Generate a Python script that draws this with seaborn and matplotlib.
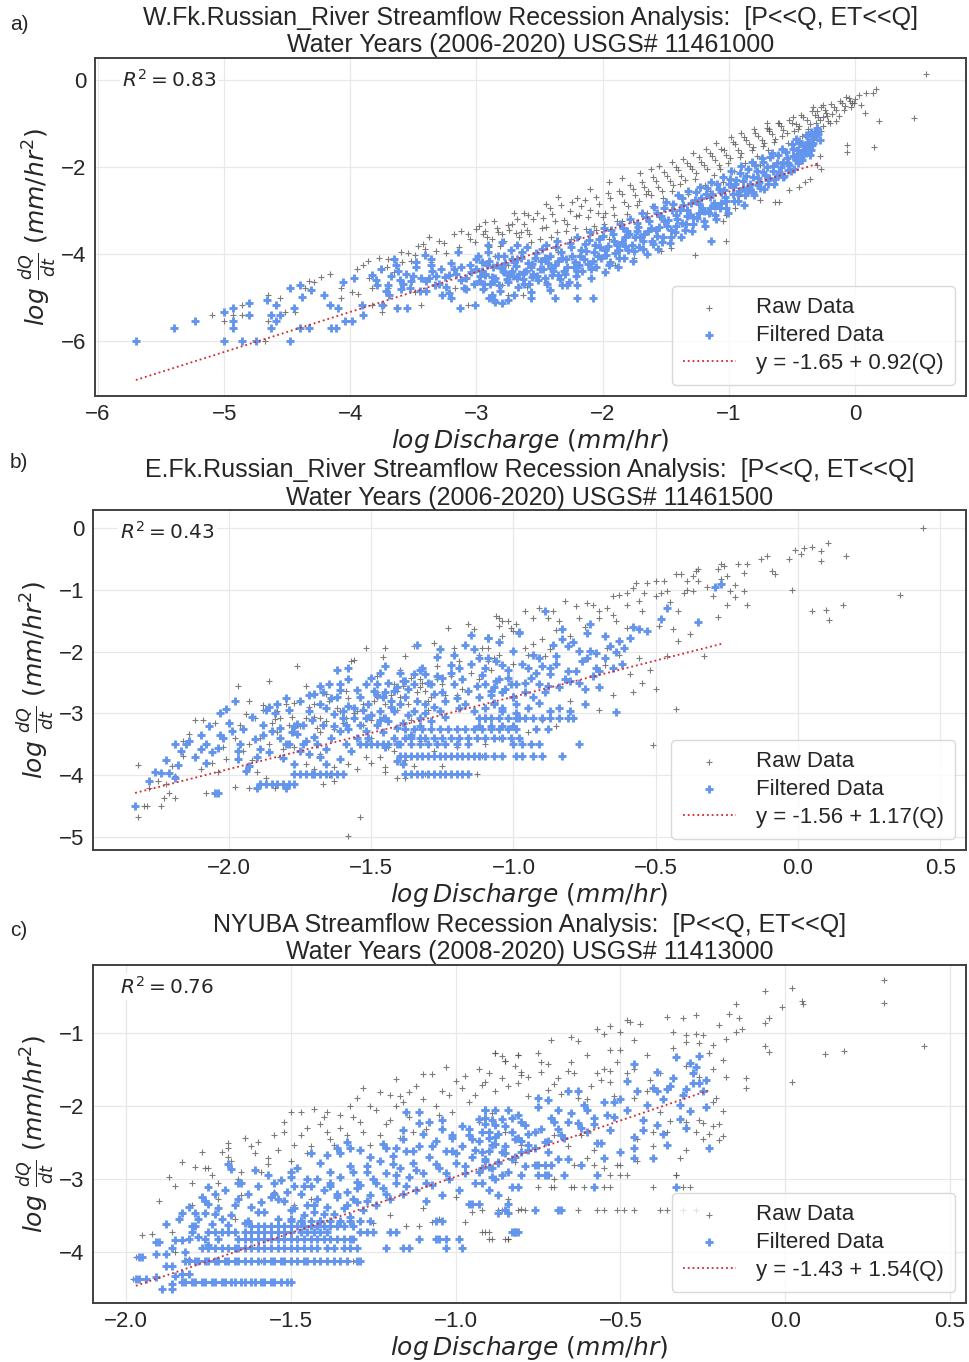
import matplotlib
matplotlib.use("Agg")
import matplotlib.pyplot as plt
import seaborn as sns
import pandas as pd

# ---------------- data ----------------
# Panel a : W.Fk. Russian River
A_TITLE = "W.Fk.Russian_River Streamflow Recession Analysis:  [P<<Q, ET<<Q]\nWater Years (2006-2020) USGS# 11461000"
A_INTERCEPT, A_SLOPE, A_R2 = -1.65, 0.92, 0.83
A_FILT = [
    (-5.70,-6.00),(-5.40,-5.71),(-5.23,-5.53),(-5.00,-5.33),(-5.00,-6.00),(-4.93,-5.24),(-4.93,-5.53),(-4.93,-5.71),
    (-4.86,-6.00),(-4.80,-5.12),(-4.80,-5.41),(-4.75,-6.00),(-4.66,-5.05),(-4.63,-5.41),(-4.63,-5.71),(-4.59,-5.18),
    (-4.59,-5.53),(-4.56,-5.41),(-4.48,-4.78),(-4.48,-6.00),(-4.40,-4.72),(-4.38,-4.98),(-4.45,-5.24),(-4.40,-5.71),
    (-4.33,-5.71),(-4.31,-4.83),(-4.21,-4.95),(-4.16,-5.18),(-4.15,-5.71),(-4.11,-5.71),(-4.10,-5.24),(-4.06,-4.64),
    (-4.04,-5.53),(-3.99,-5.53),(-3.97,-4.54),(-3.91,-5.18),(-3.90,-5.41),(-3.83,-4.49),(-3.79,-4.72),(-3.75,-5.18),
    (-3.70,-4.72),(-3.69,-4.95),(-3.65,-4.11),(-3.63,-5.24),(-3.61,-4.60),(-3.55,-5.24),(-3.53,-4.79),(-3.48,-4.18),
    (-3.41,-4.03),(-3.38,-4.56),(-3.36,-4.11),(-3.33,-4.72),(-3.27,-4.95),(-3.22,-4.49),(-3.20,-5.02),(-3.15,-3.95),
    (-3.13,-5.24),(-3.10,-4.79),(-3.01,-5.18),(-3.00,-4.11),(-2.93,-4.49),(-2.91,-3.80),(-2.90,-5.02),(-2.85,-5.10),
    (-2.80,-3.73),(-2.78,-4.41),(-2.72,-4.11),(-2.68,-3.80),(-2.68,-4.56),
    (-3.45,-4.85),(-3.40,-4.62),(-3.35,-4.40),(-3.30,-4.70),(-3.25,-4.52),(-3.18,-4.35),(-3.12,-4.60),(-3.08,-4.80),
    (-3.05,-4.25),(-3.22,-4.90),(-3.50,-4.50),(-3.58,-4.70),(-3.62,-4.40),(-2.70,-4.95),(-2.75,-5.05),(-2.88,-4.95),
    (-2.57,-4.87),(-2.57,-5.02),(-2.42,-4.83),(-2.38,-5.00),(-2.32,-4.72),(-2.28,-4.72),(-2.20,-4.72),(-2.20,-5.00),
    (-2.08,-5.00),(-2.86,-5.06),(-2.80,-5.12),(-1.14,-3.71),
    (-3.00,-4.35),(-2.98,-4.62),(-2.96,-4.18),(-2.95,-4.80),(-2.93,-4.45),(-2.91,-3.95),(-2.89,-4.70),(-2.87,-4.30),
    (-2.85,-4.55),(-2.83,-4.05),(-2.81,-4.85),(-2.79,-4.40),(-2.77,-4.20),(-2.75,-4.65),(-2.73,-3.90),(-2.71,-4.50),
    (-2.69,-4.28),(-2.67,-4.75),(-2.65,-4.10),(-2.63,-4.58),(-2.61,-4.38),(-2.60,-3.85),
    (-2.58,-4.68),(-2.56,-4.22),(-2.55,-4.45),(-2.53,-3.98),(-2.51,-4.60),(-2.49,-4.15),(-2.47,-4.35),(-2.45,-3.80),
    (-2.44,-4.70),(-2.42,-4.05),(-2.40,-4.48),(-2.38,-4.25),(-2.36,-3.70),(-2.34,-4.58),(-2.33,-3.95),(-2.31,-4.38),
    (-2.29,-4.12),(-2.27,-4.65),(-2.25,-3.85),(-2.23,-4.30),(-2.21,-4.50),(-2.20,-3.60),
    (-2.18,-4.05),(-2.16,-4.40),(-2.14,-3.78),(-2.12,-4.22),(-2.10,-3.50),(-2.09,-4.55),(-2.07,-3.95),(-2.05,-4.30),
    (-2.03,-3.65),(-2.01,-4.10),(-1.99,-3.40),(-1.98,-4.42),(-1.96,-3.82),(-1.94,-4.18),(-1.92,-3.55),(-1.90,-3.98),
    (-1.88,-4.30),(-1.86,-3.30),(-1.85,-3.72),(-1.83,-4.08),(-1.81,-3.48),(-1.80,-3.90),
    (-1.78,-3.20),(-1.76,-4.15),(-1.74,-3.62),(-1.72,-3.38),(-1.71,-3.85),(-1.69,-3.05),(-1.67,-3.55),(-1.65,-4.00),
    (-1.63,-3.25),(-1.61,-3.70),(-1.59,-2.92),(-1.58,-3.45),(-1.56,-3.88),(-1.54,-3.12),(-1.52,-3.60),(-1.50,-2.80),
    (-1.49,-3.35),(-1.47,-3.75),(-1.45,-2.98),(-1.43,-3.50),(-1.41,-3.20),(-1.40,-2.65),
    (-1.38,-3.62),(-1.36,-2.88),(-1.34,-3.30),(-1.32,-2.55),(-1.31,-3.10),(-1.29,-3.48),(-1.27,-2.75),(-1.25,-3.18),
    (-1.23,-2.45),(-1.21,-2.95),(-1.19,-3.35),(-1.18,-2.62),(-1.16,-3.05),(-1.14,-2.35),(-1.12,-2.82),(-1.10,-3.20),
    (-1.08,-2.50),(-1.07,-2.95),(-1.05,-2.22),(-1.03,-2.68),(-1.01,-3.05),(-1.00,-2.40),
    (-0.98,-2.10),(-0.96,-2.78),(-0.94,-2.30),(-0.92,-2.55),(-0.90,-1.98),(-0.88,-2.88),(-0.86,-2.20),(-0.84,-2.45),
    (-0.82,-1.88),(-0.80,-2.65),(-0.78,-2.10),(-0.76,-2.35),(-0.74,-1.80),(-0.72,-2.50),(-0.70,-2.00),(-0.68,-2.25),
    (-0.66,-1.68),(-0.64,-2.38),(-0.62,-1.90),(-0.60,-2.12),
    (-0.58,-1.58),(-0.56,-2.20),(-0.54,-1.80),(-0.52,-1.95),(-0.50,-1.48),(-0.48,-2.05),(-0.46,-1.70),(-0.44,-1.40),
    (-0.42,-1.85),(-0.40,-1.58),(-0.38,-1.30),(-0.36,-1.72),(-0.34,-1.50),(-0.32,-1.22),(-0.30,-1.10),(-0.28,-1.38),
    (-2.97,-4.50),(-2.92,-4.25),(-2.86,-4.62),(-2.80,-4.32),(-2.74,-4.48),(-2.68,-4.12),(-2.62,-4.42),(-2.57,-4.30),
    (-2.52,-4.50),(-2.46,-4.08),(-2.41,-4.32),(-2.35,-4.15),(-2.30,-4.45),(-2.24,-4.05),(-2.19,-4.25),(-2.13,-3.92),
    (-2.08,-4.15),(-2.02,-3.85),(-1.97,-4.02),(-1.91,-3.70),(-1.87,-3.90),(-1.82,-3.60),(-1.77,-3.80),(-1.73,-3.48),
    (-1.68,-3.70),(-1.62,-3.40),(-1.57,-3.58),(-1.51,-3.25),(-1.46,-3.45),(-1.42,-3.10),(-1.37,-3.28),(-1.33,-2.98),
    (-1.28,-3.15),(-1.24,-2.85),(-1.20,-3.02),(-1.15,-2.70),(-1.11,-2.90),(-1.06,-2.58),(-1.02,-2.78),(-0.97,-2.45),
    (-0.93,-2.62),(-0.89,-2.32),(-0.85,-2.52),(-0.81,-2.22),(-0.77,-2.42),(-0.73,-2.12),(-0.69,-2.30),(-0.65,-1.98),
    (-0.61,-2.18),(-0.57,-1.88),(-0.53,-2.08),(-0.49,-1.75),(-0.45,-1.92),(-0.41,-1.65),(-0.37,-1.55),(-0.33,-1.35),
    (-0.30,-1.17),(-0.39,-1.27),(-0.47,-1.36),(-0.44,-1.44),(-0.35,-1.20),
    (-2.99,-4.05),(-2.96,-4.40),(-2.94,-4.68),(-2.90,-4.15),(-2.88,-4.52),(-2.84,-4.25),(-2.82,-4.72),(-2.78,-4.05),
    (-2.76,-4.58),(-2.72,-4.38),(-2.70,-4.18),(-2.66,-4.45),(-2.64,-3.95),(-2.62,-4.68),(-2.59,-4.20),(-2.56,-4.52),
    (-2.54,-4.10),(-2.50,-4.35),(-2.48,-3.88),(-2.46,-4.55),(-2.43,-4.20),(-2.39,-4.40),(-2.37,-3.85),(-2.35,-4.48),
    (-2.32,-4.10),(-2.28,-4.30),(-2.26,-3.75),(-2.22,-4.18),(-2.20,-4.40),(-2.17,-3.90),(-2.15,-4.12),(-2.11,-3.68),
    (-2.09,-4.35),(-2.06,-3.80),(-2.04,-4.05),(-2.00,-3.58),(-1.98,-3.90),(-1.95,-4.25),(-1.93,-3.45),(-1.89,-3.80),
    (-1.87,-4.10),(-1.84,-3.40),(-1.82,-3.82),(-1.79,-3.55),(-1.75,-3.92),(-1.73,-3.28),(-1.70,-3.60),(-1.68,-3.88),
    (-1.66,-3.15),(-1.64,-3.48),(-1.60,-3.78),(-1.57,-3.05),(-1.55,-3.38),(-1.53,-3.72),(-1.51,-2.95),(-1.48,-3.22),
    (-1.46,-3.60),(-1.44,-2.85),(-1.42,-3.35),(-1.39,-3.00),(-1.37,-2.72),(-1.35,-3.45),(-1.33,-3.12),(-1.30,-2.82),
    (-1.28,-3.32),(-1.26,-2.58),(-1.24,-3.05),(-1.22,-2.72),(-1.20,-3.25),(-1.17,-2.48),(-1.15,-2.95),(-1.13,-2.62),
    (-1.11,-3.10),(-1.09,-2.38),(-1.06,-2.82),(-1.04,-2.52),(-1.02,-2.95),(-0.99,-2.28),(-0.97,-2.62),(-0.95,-2.40),
    (-0.93,-2.78),(-0.91,-2.15),(-0.89,-2.48),(-0.87,-2.65),(-0.85,-2.05),(-0.83,-2.38),(-0.81,-2.58),(-0.79,-1.95),
    (-0.77,-2.25),(-0.75,-2.48),(-0.73,-1.88),(-0.71,-2.18),(-0.69,-2.40),(-0.67,-1.78),(-0.65,-2.10),(-0.63,-2.28),
    (-0.61,-1.72),(-0.59,-2.00),(-0.57,-2.22),(-0.55,-1.65),(-0.53,-1.90),(-0.51,-2.10),(-0.49,-1.58),(-0.47,-1.85),
    (-0.45,-1.62),(-0.43,-1.78),(-0.41,-1.50),(-0.39,-1.68),(-0.37,-1.42),(-0.35,-1.60),(-0.33,-1.45),(-0.31,-1.30),
    (-0.29,-1.25),
    (-3.80,-4.60),(-3.76,-4.35),(-3.72,-4.85),(-3.68,-4.50),(-3.64,-4.25),(-3.60,-4.80),(-3.56,-4.45),(-3.52,-4.62),
    (-3.48,-4.30),(-3.44,-4.55),(-3.40,-4.85),(-3.36,-4.25),(-3.32,-4.50),(-3.28,-4.35),(-3.24,-4.75),(-3.20,-4.20),
    (-3.16,-4.45),(-3.12,-4.30),(-3.08,-4.55),(-3.04,-4.42),(-3.02,-4.70),
]
A_RAW = [
    (-5.10,-5.41),(-5.00,-5.53),(-4.86,-5.18),(-4.86,-5.41),(-4.93,-5.41),(-4.68,-6.00),(-4.65,-4.95),(-4.56,-5.02),
    (-4.65,-5.53),(-4.52,-5.33),(-4.44,-5.33),(-4.36,-4.79),(-4.33,-4.63),(-4.29,-4.64),(-4.23,-4.53),(-4.16,-4.47),
    (-4.07,-4.79),(-4.07,-5.00),(-3.99,-4.87),(-3.94,-4.91),(-3.90,-4.26),(-3.86,-4.15),(-3.83,-4.79),(-3.77,-4.08),
    (-3.70,-4.11),(-3.71,-4.30),(-3.65,-4.41),(-3.59,-4.18),(-3.54,-3.97),(-3.49,-4.03),(-3.42,-3.76),(-3.41,-3.88),
    (-3.36,-4.18),(-3.30,-3.69),(-3.24,-3.97),(-3.12,-3.46),(-3.07,-3.53),(-3.01,-3.73),(-3.00,-3.42),(-2.93,-3.27),
    (-2.88,-3.65),(-2.83,-3.50),(-2.75,-3.34),(-2.68,-3.19),(-2.65,-3.50),(-2.59,-3.11),(-3.44,-5.18),(-3.49,-4.87),
    (-3.75,-5.33),(-3.73,-5.18),(-3.07,-5.18),(-2.91,-5.02),(-3.83,-5.18),(-3.70,-4.79),(-3.17,-4.79),(-2.93,-4.79),
    (-2.80,-4.72),(-2.75,-4.95),(-2.63,-4.95),
    (-2.95,-3.55),(-2.90,-3.85),(-2.84,-3.40),(-2.78,-3.70),(-2.72,-3.30),(-2.66,-3.60),(-2.60,-3.45),(-2.55,-3.20),
    (-2.50,-3.65),(-2.45,-3.38),(-2.40,-3.08),(-2.36,-3.50),(-2.31,-3.22),(-2.26,-3.02),(-2.22,-3.40),(-2.17,-2.90),
    (-2.12,-3.15),(-2.07,-3.35),(-2.03,-2.85),(-1.98,-3.05),(-1.94,-2.72),(-1.89,-3.25),(-1.85,-2.62),(-1.80,-2.90),
    (-1.76,-2.50),(-1.71,-2.78),(-1.67,-2.45),(-1.62,-2.65),(-1.58,-2.32),(-1.53,-2.55),(-1.49,-2.20),(-1.44,-2.42),
    (-1.40,-2.08),(-1.35,-2.30),(-1.31,-1.98),(-1.26,-2.15),(-1.22,-1.88),(-1.17,-2.05),(-1.13,-1.75),(-1.08,-1.95),
    (-1.04,-1.62),(-0.99,-1.80),(-0.95,-1.48),(-0.90,-1.68),(-0.86,-1.38),(-0.81,-1.55),(-0.77,-1.28),(-0.72,-1.45),
    (-0.68,-1.18),(-0.63,-1.35),(-0.59,-1.05),(-0.54,-1.22),(-0.50,-0.98),(-0.45,-1.12),(-0.41,-0.85),(-0.36,-1.02),
    (-0.32,-0.80),(-0.27,-0.62),(-0.23,-0.75),(-0.19,-0.55),(-0.15,-0.68),(-0.12,-0.48),(-0.08,-0.60),(-0.05,-0.42),
    (-0.02,-0.52),(0.09,-0.29),(0.17,-0.21),(0.14,-0.30),(0.56,0.13),(0.47,-0.88),(0.15,-1.53),(0.19,-0.95),
    (-0.07,-0.40),(-0.06,-1.66),(-0.06,-1.50),(-0.01,-0.52),(0.08,-0.75),
    (-0.49,-0.86),(-0.44,-1.05),(-0.60,-0.98),(-0.68,-1.13),(-0.52,-2.54),(-0.63,-2.81),(-0.60,-2.80),(-0.44,-2.47),
    (-0.36,-2.27),(-0.27,-2.05),(-0.30,-1.95),(-0.40,-2.35),(-0.92,-2.66),(-0.85,-2.60),(-1.02,-3.11),(-1.05,-3.25),
    (-1.02,-3.71),(-1.27,-4.02),(-1.46,-3.86),(-1.54,-3.94),(-1.75,-4.10),(-1.90,-4.25),(-2.45,-4.65),(-2.60,-4.75),
    (-0.75,-2.75),(-0.95,-2.95),(-0.28,-1.75),(-0.35,-1.50),
    (-2.85,-4.05),(-2.65,-3.95),(-2.45,-3.80),(-2.25,-3.65),(-2.05,-3.45),(-1.85,-3.25),(-1.65,-3.05),(-1.45,-2.85),
    (-1.25,-2.55),(-1.05,-2.35),(-0.85,-2.05),(-0.65,-1.75),(-0.45,-1.55),(-2.75,-4.25),(-2.35,-3.95),(-1.95,-3.65),
    (-1.55,-3.15),(-1.15,-2.55),(-0.75,-1.95),(-0.55,-1.65),(-0.35,-1.25),(-0.25,-1.05),(-0.15,-0.95),(-0.25,-0.85),
    (-0.33,-0.62),(-0.30,-0.72),(-0.28,-0.92),(-0.25,-0.58),(-0.22,-0.82),(-0.20,-1.00),
    (-3.95,-4.35),(-3.85,-4.55),(-3.60,-3.95),(-3.52,-4.15),(-3.46,-3.82),(-3.38,-3.60),(-3.32,-3.92),(-3.26,-3.75),
    (-3.18,-3.55),(-3.14,-3.85),(-3.05,-3.65),(-2.98,-3.35),(-2.92,-3.62),(-2.86,-3.25),(-2.80,-3.55),(-2.74,-3.45),
    (-2.70,-3.05),(-2.62,-3.30),(-2.58,-3.55),(-2.52,-3.05),(-2.48,-3.40),(-2.42,-2.95),(-2.38,-3.25),(-2.33,-2.88),
    (-2.28,-3.30),(-2.24,-2.80),(-2.19,-3.10),(-2.14,-2.75),(-2.10,-3.00),(-2.05,-2.70),(-2.00,-3.15),(-1.96,-2.60),
    (-1.92,-2.92),(-1.87,-2.55),(-1.83,-2.80),(-1.78,-2.42),(-1.74,-2.65),(-1.69,-2.35),(-1.64,-2.55),(-1.60,-2.22),
    (-1.56,-2.45),(-1.51,-2.12),(-1.47,-2.32),(-1.42,-2.00),(-1.38,-2.20),(-1.33,-1.90),(-1.29,-2.05),(-1.24,-1.78),
    (-1.20,-1.95),(-1.15,-1.68),(-1.11,-1.85),(-1.06,-1.58),(-1.02,-1.72),(-0.97,-1.42),(-0.93,-1.60),(-0.88,-1.32),
    (-0.84,-1.48),(-0.79,-1.22),(-0.74,-1.38),(-0.70,-1.10),(-0.66,-1.25),(-0.61,-1.00),(-0.57,-1.15),(-0.52,-0.92),
    (-0.47,-1.02),(-0.43,-0.80),(-0.38,-0.92),(-0.34,-0.72),(-0.29,-0.85),(-0.24,-0.68),(-0.17,-0.62),(-0.10,-0.52),
    (-0.04,-0.48),(0.00,-0.45),
    (-2.93,-3.48),(-2.81,-3.82),(-2.69,-3.52),(-2.57,-3.72),(-2.47,-3.18),(-2.41,-3.62),(-2.29,-3.48),(-2.21,-3.12),
    (-2.13,-3.42),(-2.04,-3.05),(-1.99,-3.30),(-1.91,-3.10),(-1.81,-3.08),(-1.73,-2.88),(-1.66,-2.62),(-1.61,-2.90),
    (-1.52,-2.72),(-1.45,-2.55),(-1.39,-2.38),(-1.32,-2.62),(-1.27,-2.28),(-1.19,-2.42),(-1.12,-2.18),(-1.07,-2.05),
    (-1.01,-1.92),(-0.96,-2.10),(-0.91,-1.78),(-0.87,-1.92),(-0.82,-1.62),(-0.78,-1.75),(-0.73,-1.52),(-0.69,-1.62),
    (-0.64,-1.42),(-0.58,-1.30),(-0.53,-1.45),(-0.48,-1.18),(-0.42,-1.28),(-0.37,-1.12),(-0.31,-0.98),(-0.27,-1.18),
    (-0.21,-0.95),(-0.18,-0.78),(-0.13,-0.82),(-0.09,-0.70),(-0.03,-0.62),(0.03,-0.35),(0.05,-0.58),(-1.70,-2.15),
    (-1.55,-1.98),(-1.36,-1.82),(-1.18,-1.58),(-0.98,-1.32),(-0.80,-1.12),(-2.20,-2.72),(-2.45,-2.85),(-2.62,-3.05),
    (-1.95,-2.35),(-1.85,-2.25),(-1.62,-2.05),(-1.45,-1.88),(-1.28,-1.68),(-1.10,-1.45),(-0.90,-1.22),(-0.70,-0.98),
    (-2.35,-2.70),(-2.10,-2.50),
]

# Panel b : E.Fk. Russian River
B_TITLE = "E.Fk.Russian_River Streamflow Recession Analysis:  [P<<Q, ET<<Q]\nWater Years (2006-2020) USGS# 11461500"
B_INTERCEPT, B_SLOPE, B_R2 = -1.56, 1.17, 0.43
B_FILT = [
    (-2.33,-4.50),(-2.19,-3.50),(-2.15,-3.50),(-2.14,-3.44),(-2.18,-3.83),(-2.24,-3.97),(-2.21,-3.97),(-2.19,-4.04),
    (-2.10,-3.57),(-2.08,-3.50),(-2.08,-3.81),(-2.04,-3.56),(-2.04,-4.28),(-2.05,-4.28),(-2.01,-2.93),(-2.03,-3.35),
    (-1.98,-2.80),(-1.99,-3.28),(-1.97,-3.74),(-1.96,-3.50),(-1.94,-3.93),(-1.93,-3.85),(-1.91,-3.42),(-1.89,-3.58),
    (-1.87,-2.94),(-1.83,-2.84),(-1.82,-3.23),(-1.80,-3.50),(-1.77,-3.20),(-1.76,-3.17),(-1.70,-2.69),(-1.67,-2.66),
    (-1.65,-2.53),(-1.61,-2.53),(-1.58,-2.26),(-1.62,-2.74),(-1.60,-3.07),(-1.58,-3.26),(-1.54,-3.50),
    (-1.45,-2.23),(-1.47,-2.34),(-1.34,-1.90),(-1.27,-2.08),(-1.15,-1.73),(-1.09,-1.78),(-1.14,-1.95),(-0.98,-1.68),
    (-1.19,-2.26),(-1.10,-2.26),(-1.05,-2.45),(-1.01,-2.53),(-1.07,-2.58),(-1.31,-2.37),(-1.35,-2.53),(-1.39,-2.48),
    (-1.42,-2.64),(-1.46,-2.74),(-1.49,-2.64),(-1.52,-2.53),(-1.54,-2.74),(-1.56,-2.91),(-1.60,-2.96),(-1.63,-3.01),
    (-1.66,-2.91),(-1.67,-3.18),(-1.72,-2.96),(-1.74,-3.18),(-1.76,-3.34),(-1.79,-3.50),(-1.82,-3.39),(-1.85,-3.28),
    (-1.88,-3.18),(-1.75,-3.61),(-1.72,-3.66),(-1.68,-3.71),(-1.66,-3.82),(-1.61,-3.74),(-1.59,-3.50),(-1.55,-3.39),
    (-1.52,-3.28),(-1.48,-3.18),(-1.45,-3.07),(-1.42,-2.96),(-1.40,-2.85),(-1.38,-2.74),(-1.35,-2.96),(-1.33,-3.07),
    (-1.31,-2.85),(-1.28,-2.69),(-1.26,-2.96),(-1.24,-2.80),(-1.21,-2.53),(-1.19,-2.91),(-1.16,-2.64),(-1.14,-2.96),
    (-1.12,-2.74),(-1.10,-3.07),(-1.07,-2.85),(-1.04,-2.96),(-1.00,-2.74),(-0.98,-3.07),
    (-1.51,-2.85),(-1.47,-2.96),(-1.43,-2.80),(-1.48,-2.53),(-1.45,-2.66),(-1.41,-2.58),(-1.38,-2.48),(-1.35,-2.37),
    (-1.32,-2.26),(-1.25,-2.42),(-1.22,-2.21),(-1.29,-2.53),(-1.52,-3.07),(-1.54,-3.18),(-1.56,-3.07),(-1.59,-3.18),
    (-1.61,-3.28),(-1.64,-3.39),(-1.69,-3.50),(-1.73,-3.44),(-1.77,-3.82),(-1.42,-3.39),(-1.41,-3.50),(-1.41,-3.23),
    (-1.39,-3.82),(-1.41,-3.77),(-1.44,-3.12),(-1.37,-3.02),(-1.33,-3.20),(-1.29,-3.12),(-1.46,-3.30),(-1.50,-3.02),
    (-1.09,-1.78),(-0.98,-1.70),(-0.89,-1.35),(-0.83,-1.64),(-0.73,-1.56),(-0.74,-1.70),(-0.83,-1.80),(-0.81,-1.91),
    (-0.77,-1.99),(-0.73,-1.99),(-0.71,-2.02),(-0.68,-2.10),(-0.66,-1.91),(-0.63,-1.83),(-0.61,-1.94),(-0.59,-1.78),
    (-0.58,-1.60),(-0.56,-1.64),(-0.53,-1.67),(-0.48,-1.48),(-0.46,-1.29),(-0.35,-1.52),(-0.29,-0.96),(-0.27,-0.90),
    (-1.09,-2.10),(-1.04,-2.21),(-1.00,-1.99),(-0.95,-2.26),(-0.91,-2.10),(-0.90,-2.23),(-0.87,-2.26),(-0.85,-2.07),
    (-0.81,-2.31),(-0.78,-2.31),(-0.74,-2.10),(-0.71,-2.26),(-0.70,-2.31),(-0.65,-2.26),
    (-1.10,-2.53),(-1.06,-2.48),(-1.02,-2.42),(-0.99,-2.53),(-0.94,-2.42),(-0.91,-2.53),(-0.87,-2.37),(-0.84,-2.58),
    (-0.80,-2.48),(-0.77,-2.50),(-0.75,-2.61),(-0.70,-2.57),(-1.08,-2.64),(-1.04,-2.66),(-1.00,-2.74),(-0.96,-2.66),
    (-0.93,-2.74),(-0.89,-2.66),(-0.84,-2.91),(-0.80,-2.96),(-0.87,-2.96),(-0.91,-2.83),(-0.95,-2.91),(-0.99,-2.99),
    (-1.04,-2.91),(-1.07,-2.83),(-1.10,-2.91),(-0.75,-2.85),(-0.64,-2.97),
    (-2.12,-3.70),(-2.06,-3.62),(-2.02,-3.40),(-2.00,-3.15),(-1.97,-3.60),(-1.95,-3.25),(-1.92,-3.05),(-1.90,-3.70),
    (-1.88,-3.35),(-1.86,-3.62),(-1.84,-3.00),(-1.81,-3.72),(-1.79,-2.95),(-1.78,-3.30),(-1.75,-2.80),(-1.74,-3.50),
    (-1.71,-3.10),(-1.70,-3.38),(-1.68,-2.85),(-1.66,-3.58),(-1.64,-2.75),(-1.63,-3.20),(-1.61,-2.62),(-1.58,-2.88),
    (-1.57,-3.60),(-1.55,-2.62),(-1.53,-2.95),(-1.51,-3.40),(-1.50,-2.42),(-1.48,-2.70),(-1.47,-3.10),(-1.45,-3.55),
    (-1.44,-2.50),(-1.43,-2.90),(-1.40,-2.35),(-1.39,-3.15),(-1.37,-2.60),(-1.36,-3.35),(-1.34,-2.80),(-1.33,-2.30),
    (-1.31,-3.00),(-1.30,-2.50),(-1.28,-2.90),(-1.27,-2.40),(-1.25,-2.65),(-1.24,-3.05),(-1.22,-2.35),(-1.20,-2.75),
    (-1.18,-2.45),(-1.17,-2.85),(-1.15,-2.20),(-1.13,-2.55),(-1.11,-2.38),(-1.08,-2.70),(-1.06,-2.15),(-1.03,-2.60),
    (-1.02,-2.30),(-0.99,-2.85),(-0.97,-2.20),(-0.96,-2.50),(-0.93,-2.05),(-0.92,-2.35),(-0.88,-2.55),(-0.86,-1.90),
    (-0.85,-2.20),(-0.82,-2.45),(-0.79,-1.85),(-0.76,-2.15),(-0.72,-2.40),(-0.68,-1.75),(-0.64,-2.00),(-0.62,-2.20),
    (-1.26,-1.95),(-1.21,-2.05),(-1.17,-1.90),(-1.12,-2.10),(-1.05,-1.85),(-1.58,-2.45),(-1.62,-2.30),(-1.68,-2.55),
    (-1.72,-2.70),(-1.80,-2.75),(-1.86,-2.90),(-2.03,-3.00),(-2.07,-3.20),(-2.10,-3.35),(-2.17,-3.60),(-2.22,-3.75),
    (-2.26,-3.95),(-2.28,-4.10),
]
# horizontal rows of filtered points (log dQ/dt level, discharge values)
B_FILT_ROWS = [
    (-3.98, [-1.77,-1.75,-1.73,-1.71,-1.70,-1.68,-1.66,-1.64,-1.62,-1.60,-1.38,-1.36,-1.34,-1.32,-1.30,-1.28,-1.26,
             -1.24,-1.22,-1.20,-1.18,-1.16]),
    (-4.14, [-1.89,-1.87,-1.85,-1.83,-1.81,-1.79,-1.77]),
    (-4.20, [-1.90,-1.80]),
    (-3.69, [-1.40,-1.38,-1.36,-1.34,-1.32,-1.30,-1.28,-1.26,-1.24,-1.22,-1.20,-1.18,-1.16,-1.14,-1.12,-1.10,-1.07,
             -1.04,-0.99,-0.97,-0.93,-0.90,-0.83]),
    (-3.50, [-1.52,-1.50,-1.48,-1.46,-1.44,-1.40,-1.36,-1.33,-1.30,-1.27,-1.24,-1.20,-1.16,-1.00,-0.97,-0.94,-0.91,-0.77]),
    (-3.39, [-1.38,-1.36,-1.33,-1.31,-1.28,-1.25,-1.22,-1.19,-1.16,-1.13,-1.10,-1.07,-1.04,-1.01,-0.98]),
    (-3.26, [-1.38,-1.35,-1.32,-1.29,-1.26,-1.23,-1.20,-1.17,-1.14,-1.11,-1.08,-1.05,-1.02,-0.99,-0.92,-0.88]),
    (-3.07, [-1.12,-1.10,-1.08,-1.05,-1.02,-0.99,-0.96,-0.93,-0.90,-0.87,-0.84,-0.81,-0.79]),
    (-3.20, [-1.12,-1.08,-1.04,-1.00]),
]
B_RAW = [
    (0.44,0.00),(0.105,-0.24),(0.08,-0.37),(0.05,-0.30),(0.02,-0.32),(-0.01,-0.35),(0.01,-0.42),(-0.03,-0.50),
    (0.17,-0.46),(0.08,-0.53),(-0.11,-0.46),(-0.13,-0.50),(-0.09,-0.70),(-0.08,-0.75),(-0.02,-1.00),(0.36,-1.09),
    (0.05,-1.35),(0.10,-1.32),(0.11,-1.49),(0.16,-1.25),(-0.18,-0.59),(-0.21,-0.59),(-0.26,-0.62),(-0.27,-0.59),
    (-0.28,-0.67),(-0.25,-0.78),(-0.27,-0.83),(-0.19,-0.73),(-0.24,-1.02),(-0.22,-1.12),(-0.19,-1.02),(-0.18,-1.25),
    (-0.28,-1.44),(-0.36,-0.69),(-0.35,-0.67),(-0.37,-0.78),(-0.41,-0.75),(-0.43,-0.75),(-0.39,-0.86),(-0.37,-1.02),
    (-0.39,-1.00),(-0.47,-0.86),(-0.50,-0.86),(-0.53,-0.89),(-0.48,-1.05),(-0.46,-1.02),(-0.57,-0.89),(-0.58,-0.97),
    (-0.60,-1.05),(-0.56,-1.18),(-0.54,-1.05),(-0.63,-1.08),(-0.65,-1.10),(-0.67,-1.29),(-0.72,-1.24),(-0.74,-1.21),
    (-0.78,-1.26),(-0.82,-1.18),(-0.86,-1.35),(-0.91,-1.29),(-0.96,-1.35),(-0.93,-1.45),(-0.88,-1.45),(-0.84,-1.51),
    (-0.77,-1.45),(-0.70,-1.45),(-0.64,-1.50),(-0.60,-1.61),(-0.49,-1.59),(-0.44,-1.63),(-0.42,-1.83),(-0.38,-1.72),
    (-0.42,-1.35),(-0.33,-2.07),(-0.46,-2.07),(-0.56,-2.10),(-0.59,-2.37),(-0.52,-2.29),(-0.58,-2.66),(-0.43,-2.93),
    (-0.51,-3.51),(-1.05,-1.45),(-1.05,-1.59),(-1.02,-1.51),(-1.00,-1.67),(-1.09,-1.94),(-1.11,-1.94),(-1.07,-2.10),
    (-0.96,-1.94),(-0.93,-1.88),(-0.87,-1.96),(-0.89,-2.07),(-0.67,-1.94),(-0.63,-2.05),(-0.68,-2.21),
    (-2.32,-3.83),(-2.32,-4.68),(-2.30,-4.50),(-2.29,-4.50),(-2.24,-4.50),(-2.23,-4.37),(-2.19,-4.37),(-2.21,-4.28),
    (-2.28,-4.20),(-2.22,-4.14),(-2.19,-4.02),(-2.16,-3.69),(-2.14,-3.33),(-2.09,-3.11),(-2.05,-3.15),(-2.08,-4.28),
    (-2.04,-3.94),(-2.01,-3.74),(-1.97,-2.56),(-1.98,-4.19),(-1.93,-2.80),(-1.96,-3.18),(-1.94,-3.01),(-1.91,-3.07),
    (-1.88,-2.86),(-1.86,-2.48),(-1.84,-3.09),(-1.83,-2.96),(-1.81,-3.58),(-1.77,-2.83),(-1.76,-2.23),(-1.73,-2.56),
    (-1.70,-2.85),(-1.68,-3.07),(-1.66,-2.69),(-1.63,-3.26),(-1.61,-2.96),(-1.59,-2.64),(-1.57,-2.15),(-1.56,-2.14),
    (-1.54,-4.68),(-1.58,-4.98),(-1.52,-1.94),(-1.49,-2.80),(-1.47,-2.96),(-1.45,-1.94),(-1.46,-2.08),(-1.42,-2.53),
    (-1.40,-2.74),(-1.38,-2.07),(-1.35,-1.91),(-1.33,-2.45),(-1.31,-2.64),(-1.28,-1.86),(-1.27,-2.23),(-1.23,-1.61),
    (-1.21,-1.94),(-1.19,-2.15),(-1.16,-1.56),(-1.14,-1.64),(-1.12,-2.05),(-1.09,-2.15),(-1.06,-1.43),(-1.04,-1.51),
    (-1.01,-1.61),(-0.99,-1.56),(-1.04,-1.75),
    (-1.82,-3.07),(-1.77,-3.23),(-1.73,-3.07),(-1.69,-3.23),(-1.66,-3.12),(-1.62,-2.91),(-1.59,-3.07),(-1.55,-2.96),
    (-1.53,-3.18),(-1.48,-2.74),(-1.45,-2.85),(-1.41,-2.64),(-1.36,-2.42),(-1.33,-2.58),(-1.29,-2.74),(-1.25,-2.53),
    (-1.86,-3.50),(-1.82,-3.71),(-1.77,-3.55),(-1.73,-3.82),(-1.68,-3.66),(-1.63,-3.87),(-1.58,-3.82),(-1.52,-3.71),
    (-1.47,-3.71),(-1.45,-3.87),(-1.41,-4.04),(-1.38,-4.04),(-1.31,-3.98),(-1.13,-3.98),(-1.11,-3.69),(-0.99,-3.69),
    (-1.93,-4.20),(-1.87,-4.04),(-1.67,-4.14),(-1.63,-4.09),(-1.84,-4.20),(-1.79,-3.18),(-1.89,-3.39),(-1.93,-3.50),
    (-1.95,-3.61),(-1.50,-3.40),(-1.44,-3.55),(-1.36,-3.10),(-1.30,-2.95),(-1.20,-2.70),(-1.48,-2.40),(-1.40,-2.30),
    (-1.88,-2.95),(-1.85,-3.15),(-1.83,-3.30),(-1.80,-2.85),(-1.78,-3.05),(-1.75,-3.20),(-1.72,-2.90),(-1.70,-3.05),
    (-1.68,-3.30),(-1.65,-2.80),(-1.63,-3.00),(-1.60,-3.15),(-1.58,-2.75),(-1.56,-3.00),(-1.53,-2.85),(-1.50,-3.10),
    (-1.48,-2.65),(-1.46,-3.05),(-1.43,-2.70),(-1.41,-2.95),(-1.39,-2.55),(-1.37,-2.85),(-1.34,-2.65),(-1.32,-2.50),
    (-1.30,-2.80),(-1.27,-2.45),(-1.24,-2.70),(-1.22,-2.40),(-1.18,-2.60),(-1.15,-2.35),(-1.12,-2.45),(-1.08,-2.30),
    (-1.05,-2.05),(-1.00,-2.20),(-0.95,-2.05),(-0.90,-1.80),(-0.85,-1.65),(-0.80,-1.75),(-0.75,-1.60),(-0.70,-1.35),
    (-0.65,-1.40),(-0.60,-1.25),(-0.55,-1.35),(-0.50,-1.10),(-0.45,-1.20),(-0.40,-1.05),(-0.35,-0.85),(-0.32,-0.95),
    (-0.30,-1.10),(-0.25,-1.25),(-0.22,-0.92),(-1.98,-3.40),(-2.02,-3.55),(-2.06,-3.80),(-2.10,-3.90),(-2.12,-3.10),
    (-2.16,-3.45),(-2.20,-3.85),(-2.25,-4.10),(-1.92,-3.75),(-1.90,-3.95),(-1.70,-3.90),(-1.65,-4.00),(-1.55,-3.90),
    (-1.50,-3.80),(-1.45,-3.95),(-1.42,-3.60),(-1.38,-3.75),(-1.35,-3.85),(-1.33,-3.45),(-1.28,-3.60),(-1.25,-3.85),
    (-1.20,-3.55),(-1.10,-3.50),(-1.05,-3.40),(-0.95,-3.30),(-0.90,-3.10),(-0.85,-3.20),(-0.80,-2.80),(-0.70,-2.95),
    (-0.65,-2.70),(-0.55,-2.50),(-0.50,-2.60),
]

# Panel c : NYUBA
C_TITLE = "NYUBA Streamflow Recession Analysis:  [P<<Q, ET<<Q]\nWater Years (2008-2020) USGS# 11413000"
C_INTERCEPT, C_SLOPE, C_R2 = -1.43, 1.54, 0.76
C_FILT = [
    (-1.96,-4.07),(-1.95,-4.07),(-1.96,-4.37),(-1.97,-4.37),(-1.94,-4.37),(-1.91,-4.35),(-1.89,-4.51),(-1.86,-4.51),
    (-1.86,-4.44),(-1.85,-4.33),(-1.83,-4.30),(-1.81,-4.30),(-1.88,-4.19),(-1.86,-4.19),(-1.91,-4.03),(-1.88,-4.03),
    (-1.91,-3.87),(-1.90,-3.87),(-1.85,-3.84),(-1.83,-3.84),(-1.81,-3.82),(-1.80,-3.73),(-1.80,-3.64),(-1.79,-3.64),
    (-1.83,-3.46),(-1.81,-3.39),(-1.79,-3.46),(-1.76,-3.46),(-1.75,-3.34),(-1.75,-3.11),(-1.73,-3.48),(-1.69,-3.63),
    (-1.68,-2.87),(-1.66,-3.06),(-1.63,-3.57),(-1.60,-3.45),(-1.55,-3.20),(-1.54,-3.27),(-1.50,-2.97),(-1.50,-2.90),
    (-1.49,-3.09),(-1.46,-3.09),(-1.44,-2.64),(-1.42,-3.00),(-1.39,-2.67),(-1.38,-3.09),(-1.36,-2.58),(-1.33,-2.49),
    (-1.32,-2.58),(-1.31,-3.27),(-1.30,-3.04),(-1.27,-2.90),(-1.21,-2.58),(-1.18,-2.58),(-1.16,-2.33),(-1.15,-2.08),
    (-1.11,-2.08),(-1.11,-2.24),(-1.08,-2.22),(-1.04,-2.19),(-1.01,-2.44),(-0.96,-2.40),(-0.91,-2.06),(-0.89,-2.19),
    (-1.52,-3.30),(-1.50,-3.55),(-1.49,-3.40),(-1.47,-3.20),(-1.46,-3.50),(-1.45,-3.35),(-1.44,-3.10),(-1.43,-3.45),
    (-1.42,-3.28),(-1.41,-3.58),(-1.40,-3.15),(-1.39,-3.38),(-1.38,-3.05),(-1.37,-3.48),(-1.36,-3.25),(-1.35,-2.98),
    (-1.34,-3.40),(-1.33,-3.18),(-1.32,-3.52),(-1.31,-2.90),(-1.30,-3.32),(-1.29,-3.08),(-1.28,-3.42),(-1.27,-2.82),
    (-1.26,-3.22),(-1.25,-3.00),(-1.24,-3.35),(-1.23,-2.75),(-1.22,-3.12),(-1.21,-2.92),(-1.20,-3.28),(-1.19,-2.68),
    (-1.18,-3.05),(-1.17,-2.85),(-1.16,-3.20),(-1.15,-2.62),(-1.14,-2.98),(-1.13,-2.78),(-1.12,-3.15),(-1.11,-2.55),
    (-1.10,-2.92),(-1.09,-3.30),(-1.08,-2.70),(-1.07,-3.08),(-1.06,-2.48),(-1.05,-2.85),(-1.04,-3.22),(-1.03,-2.62),
    (-1.02,-3.00),(-1.01,-2.40),(-1.00,-2.78),(-0.99,-3.15),(-0.98,-2.55),(-0.97,-2.92),(-0.96,-2.32),(-0.95,-2.70),
    (-0.94,-3.05),(-0.93,-2.48),(-0.92,-2.85),(-0.91,-2.25),(-0.90,-2.62),(-0.89,-2.98),(-0.88,-2.42),(-0.87,-2.78),
    (-0.86,-2.18),(-0.85,-2.55),(-0.84,-2.90),(-0.83,-2.35),(-0.82,-2.70),(-0.81,-2.12),(-0.80,-2.48),(-0.79,-2.82),
    (-1.78,-3.55),(-1.76,-3.30),(-1.74,-3.62),(-1.72,-3.40),(-1.70,-3.15),(-1.68,-3.50),(-1.66,-3.28),(-1.64,-3.60),
    (-1.62,-3.38),(-1.60,-3.10),(-1.58,-3.45),(-1.56,-3.25),(-1.54,-3.55),(-1.53,-3.02),(-1.57,-2.95),(-1.61,-2.88),
    (-1.65,-3.05),(-1.69,-2.80),
    (-0.33,-1.33),(-0.26,-1.31),(-0.29,-1.41),(-0.27,-1.47),(-0.39,-1.53),(-0.46,-1.43),(-0.48,-1.66),(-0.36,-1.77),
    (-0.39,-1.79),(-0.35,-1.73),(-0.30,-1.77),(-0.28,-1.69),(-0.26,-1.69),(-0.24,-1.64),(-0.23,-2.57),(-0.24,-2.02),
    (-0.29,-2.07),(-0.32,-1.99),(-0.30,-2.30),(-0.32,-2.18),(-0.36,-2.54),(-0.37,-2.38),(-0.39,-2.26),(-0.40,-2.71),
    (-0.43,-2.19),(-0.43,-2.33),(-0.46,-2.71),(-0.46,-2.58),(-0.46,-2.42),(-0.50,-2.63),(-0.52,-1.94),(-0.53,-2.33),
    (-0.54,-2.12),(-0.55,-2.71),(-0.56,-2.51),(-0.57,-2.51),(-0.58,-2.17),(-0.60,-2.35),(-0.61,-1.99),(-0.63,-1.79),
    (-0.63,-2.24),(-0.66,-1.79),(-0.66,-2.22),(-0.67,-2.44),(-0.69,-2.06),(-0.69,-2.31),(-0.71,-2.17),(-0.72,-1.92),
    (-0.73,-2.49),(-0.74,-2.31),(-0.75,-1.89),(-0.75,-2.01),(-0.76,-2.58),(-0.78,-2.38),(-0.79,-2.26),(-0.80,-2.22),
    (-0.81,-2.44),(-0.83,-2.17),(-0.84,-2.06),(-0.85,-2.28),(-0.87,-2.38),(-0.88,-2.26),(-0.88,-2.06),(-0.90,-2.44),
    (-0.91,-2.17),(-0.91,-2.06),(-0.92,-2.35),(-0.89,-2.54),(-0.86,-2.63),(-0.83,-2.72),(-0.80,-2.63),(-0.78,-2.54),
    (-0.72,-2.63),(-0.69,-2.72),(-0.66,-2.72),(-0.92,-2.63),(-0.90,-2.83),(-0.87,-2.77),
    (-0.93,-2.90),(-0.92,-3.05),(-0.91,-2.75),(-0.90,-3.15),(-0.89,-2.85),(-0.88,-3.00),(-0.87,-3.22),(-0.86,-2.95),
    (-1.88,-3.62),(-1.86,-3.95),(-1.84,-3.55),(-1.82,-4.00),(-1.78,-3.80),(-1.77,-3.25),(-1.75,-3.90),(-1.73,-3.20),
    (-1.71,-3.55),(-1.67,-3.35),(-1.63,-3.20),(-1.59,-3.32),(-1.55,-3.05),(-1.51,-3.18),(-1.48,-2.85),(-1.45,-3.00),
    (-1.41,-2.78),(-1.38,-2.90),(-1.35,-2.65),(-1.32,-2.82),(-1.29,-2.60),(-1.26,-2.70),(-1.22,-2.52),(-1.19,-2.80),
    (-1.16,-2.45),(-1.13,-2.62),(-1.10,-2.38),(-1.07,-2.55),(-1.04,-2.32),(-1.01,-2.62),(-0.98,-2.28),(-0.95,-2.45),
    (-0.93,-2.18),(-0.90,-2.35),(-1.50,-3.42),(-1.47,-3.58),(-1.43,-3.35),(-1.40,-3.48),(-1.36,-3.20),(-1.33,-3.35),
    (-1.30,-3.12),(-1.27,-3.30),(-1.24,-3.05),(-1.21,-3.20),(-1.18,-2.95),(-1.15,-3.10),(-1.12,-2.88),(-1.09,-3.05),
    (-1.06,-2.80),(-1.03,-2.92),(-1.00,-2.65),(-0.97,-2.82),(-0.94,-2.60),(-0.91,-2.72),(-0.88,-2.52),(-0.85,-2.65),
    (-0.82,-2.45),(-0.78,-2.60),(-0.76,-2.35),(-0.72,-2.48),(-0.70,-2.22),(-0.68,-2.40),(-0.65,-2.10),(-0.62,-2.30),
    (-0.60,-2.05),(-0.58,-2.25),(-0.55,-1.95),(-0.52,-2.15),(-0.50,-1.90),(-0.48,-2.05),(-0.45,-1.80),(-0.42,-1.98),
    (-0.40,-1.75),(-0.37,-1.90),(-0.34,-1.62),(-0.31,-1.85),(-0.28,-1.55),(-0.25,-1.80),
]
C_FILT_ROWS = [
    (-4.41, [-1.83,-1.82,-1.80,-1.79,-1.77,-1.76,-1.74,-1.73,-1.71,-1.70,-1.68,-1.67,-1.65,-1.64,-1.62,-1.61,-1.59,
             -1.58,-1.56,-1.55,-1.53,-1.51,-1.50]),
    (-4.12, [-1.82,-1.81,-1.79,-1.78,-1.76,-1.75,-1.73,-1.72,-1.70,-1.69,-1.67,-1.66,-1.64,-1.62,-1.60,-1.58,-1.56,
             -1.55,-1.53,-1.52,-1.50,-1.48,-1.46,-1.45,-1.43,-1.41,-1.39,-1.37,-1.35,-1.33,-1.30,-1.29]),
    (-3.94, [-1.77,-1.75,-1.73,-1.71,-1.69,-1.67,-1.66,-1.64,-1.62,-1.60,-1.58,-1.56,-1.54,-1.52,-1.50,-1.48,-1.46,
             -1.44,-1.42,-1.39,-1.37,-1.34,-1.32,-1.30,-1.21,-1.16,-1.14,-1.03,-0.98]),
    (-3.82, [-1.76,-1.72,-1.66,-1.64,-1.62,-1.60,-1.58,-1.56,-1.54,-1.52,-1.50,-1.48,-1.46,-1.44,-1.42,-1.40,-1.38,
             -1.36,-1.34,-1.32,-1.31,-1.11,-1.06,-1.05,-1.03,-0.99]),
    (-3.73, [-1.75,-1.73,-1.71,-1.69,-1.67,-1.64,-1.62,-1.60,-1.58,-1.56,-1.54,-1.52,-1.50,-1.47,-1.45,-1.43,-1.41,
             -1.39,-1.29,-1.27,-1.25,-1.20,-1.18,-0.82,-0.81]),
    (-3.64, [-1.62,-1.60,-1.58,-1.56,-1.54,-1.52,-1.50,-1.48,-1.46,-1.44,-1.42,-1.40,-1.38,-1.36,-1.34,-1.31]),
    (-3.57, [-1.50,-1.47,-1.44,-1.41,-1.38,-1.35,-1.32,-1.29,-1.26,-1.06,-1.04]),
    (-3.34, [-0.96,-0.95,-0.93,-0.84]),
    (-3.47, [-0.87,-0.84]),
    (-2.81, [-0.76,-0.75,-0.73,-0.71,-0.62]),
    (-2.94, [-0.80,-0.75,-0.73,-0.72,-0.67,-0.57]),
    (-3.11, [-0.83,-0.81,-0.58,-0.33]),
    (-3.42, [-0.85,-0.76,-0.69,-0.68]),
    (-3.72, [-0.83,-0.82]),
]
C_RAW = [
    (-1.87,-2.98),(-1.83,-2.77),(-1.79,-2.83),(-1.77,-2.63),(-1.76,-2.85),(-1.71,-2.63),(-1.69,-2.58),(-1.69,-2.51),
    (-1.69,-2.70),(-1.64,-2.44),(-1.61,-2.65),(-1.57,-2.71),(-1.52,-2.22),(-1.52,-2.35),(-1.50,-2.08),(-1.47,-2.08),
    (-1.43,-2.04),(-1.40,-2.15),(-1.39,-2.08),(-1.35,-2.12),(-1.32,-2.00),(-1.30,-1.89),(-1.28,-1.75),(-1.23,-1.81),
    (-1.20,-1.85),(-1.18,-1.63),(-1.17,-1.86),(-1.14,-1.81),(-1.12,-1.73),(-1.10,-1.56),(-1.07,-1.56),(-1.04,-1.79),
    (-1.03,-1.46),(-1.00,-1.66),(-0.97,-1.59),(-0.93,-1.49),(-0.91,-1.67),(-0.88,-1.28),(-0.85,-1.39),(-0.81,-1.30),
    (-0.80,-1.57),(-1.49,-2.54),(-1.45,-2.65),(-1.39,-2.35),(-1.37,-2.54),(-1.33,-2.40),(-1.29,-2.22),(-1.26,-2.54),
    (-1.23,-2.40),(-1.20,-2.19),(-1.17,-2.44),(-1.13,-2.35),(-1.09,-2.31),(-1.05,-2.12),(-1.01,-2.08),(-0.96,-1.94),
    (-0.93,-2.22),(-0.89,-2.10),(-0.85,-2.35),(-0.82,-2.77),(-0.80,-2.54),(-1.72,-3.27),(-1.65,-3.22),(-1.66,-3.00),
    (-1.59,-2.90),(-1.55,-3.18),(-1.44,-3.27),(-1.49,-3.36),(-1.67,-3.55),(-1.71,-3.73),(-1.95,-3.77),(-1.92,-3.75),
    (-1.86,-3.73),(-1.97,-4.07),(-1.98,-4.37),(-1.85,-4.00),(-1.81,-4.10),(-1.59,-4.12),(-1.31,-4.12),(-1.29,-4.12),
    (-1.11,-3.64),(-1.15,-3.64),(-1.07,-3.59),(-0.97,-3.59),(-0.91,-3.73),(-0.89,-3.82),(-0.84,-3.82),(-0.86,-3.43),
    (-0.80,-3.41),(-1.80,-3.05),(-1.74,-2.95),(-1.62,-2.55),(-1.55,-2.40),(-1.45,-2.30),(-1.26,-2.00),(-1.16,-1.95),
    (0.30,-0.28),(0.30,-0.59),(0.02,-0.39),(0.05,-0.56),(0.055,-0.60),(-0.01,-0.64),(-0.06,-0.43),(-0.05,-0.79),
    (-0.06,-0.86),(-0.06,-1.18),(-0.05,-1.26),(0.02,-1.67),(0.12,-1.29),(0.18,-1.24),(0.42,-1.18),(-0.15,-0.60),
    (-0.17,-0.74),(-0.20,-0.89),(-0.14,-0.79),(-0.13,-0.94),(-0.15,-0.98),(-0.18,-1.08),(-0.22,-1.17),(-0.19,-1.37),
    (-0.18,-1.60),(-0.12,-1.62),(-0.12,-1.75),(-0.27,-0.76),(-0.31,-0.79),(-0.36,-0.78),(-0.34,-0.98),(-0.30,-1.03),
    (-0.27,-1.02),(-0.25,-1.03),(-0.30,-1.13),(-0.23,-1.28),(-0.26,-1.14),(-0.44,-0.88),(-0.47,-0.85),(-0.48,-0.82),
    (-0.53,-0.91),(-0.50,-0.98),(-0.55,-1.02),(-0.57,-0.94),(-0.53,-1.23),(-0.50,-1.23),(-0.46,-1.09),(-0.63,-1.11),
    (-0.65,-1.06),(-0.71,-1.10),(-0.75,-1.28),(-0.81,-1.30),(-0.86,-1.31),(-0.88,-1.28),(-0.85,-1.39),(-0.80,-1.53),
    (-0.74,-1.53),(-0.72,-1.42),(-0.65,-1.40),(-0.60,-1.30),(-0.55,-1.49),(-0.53,-1.52),(-0.57,-1.55),(-0.53,-1.67),
    (-0.48,-1.55),(-0.41,-1.64),(-0.69,-1.62),(-0.66,-1.52),(-0.84,-1.73),(-0.81,-1.69),(-0.92,-1.71),(-0.88,-1.80),
    (-0.78,-1.86),(-0.72,-1.78),(-0.66,-1.78),(-0.68,-1.83),(-0.63,-1.89),(-0.59,-1.73),(-0.52,-1.87),(-0.46,-1.89),
    (-0.42,-1.80),(-0.38,-2.08),(-0.35,-2.21),(-0.30,-2.22),(-0.26,-2.19),(-0.25,-2.24),(-0.22,-1.94),(-0.21,-1.89),
    (-0.19,-2.07),(-0.20,-2.25),(-0.22,-2.27),(-0.23,-2.38),(-0.19,-2.41),(-0.20,-2.47),(-0.25,-2.45),(-0.32,-2.71),
    (-0.33,-2.94),(-0.84,-3.27),(-0.60,-2.71),(-0.58,-2.60),(-0.45,-2.45),(-0.40,-2.35),(-0.62,-2.40),(-0.70,-2.40),
    (-1.90,-3.30),(-1.85,-3.10),(-1.80,-3.35),(-1.75,-2.85),(-1.72,-3.05),(-1.68,-2.75),(-1.65,-2.90),(-1.60,-2.50),
    (-1.57,-2.80),(-1.54,-2.60),(-1.50,-2.75),(-1.47,-2.40),(-1.44,-2.55),(-1.41,-2.25),(-1.38,-2.45),(-1.35,-2.30),
    (-1.31,-2.15),(-1.28,-2.35),(-1.24,-2.05),(-1.21,-2.25),(-1.18,-2.00),(-1.14,-2.15),(-1.10,-1.90),(-1.06,-2.00),
    (-1.02,-1.85),(-0.98,-1.75),(-0.94,-1.85),(-0.90,-1.55),(-0.86,-1.62),(-0.82,-1.45),(-0.78,-1.60),(-0.74,-1.40),
    (-0.70,-1.70),(-0.64,-1.55),(-0.60,-1.90),(-0.56,-1.65),(-0.51,-1.40),(-0.46,-1.50),(-0.42,-1.30),(-0.38,-1.55),
    (-0.34,-1.20),(-0.30,-1.45),(-0.26,-1.60),(-0.22,-1.50),(-0.40,-2.55),(-0.36,-2.35),(-0.30,-2.60),(-0.27,-2.35),
    (-0.75,-2.80),(-0.70,-3.00),(-0.66,-2.55),(-0.55,-2.85),(-0.48,-2.95),(-0.45,-2.75),(-1.10,-3.40),(-1.05,-3.55),
    (-1.00,-3.25),(-0.95,-3.45),(-1.20,-3.50),(-1.25,-3.60),
]
C_RAW_ROWS = [
    (-3.11, [-0.75,-0.71,-0.70,-0.65,-0.64,-0.61,-0.55,-0.53,-0.40,-0.31,-0.29]),
    (-3.42, [-0.92,-0.87,-0.81,-0.79,-0.63,-0.57,-0.55,-0.51,-0.49,-0.46,-0.38,-0.36,-0.31,-0.27]),
    (-2.94, [-0.53,-0.50,-0.33]),
    (-2.81, [-0.64,-0.62,-0.58,-0.51,-0.50]),
    (-3.72, [-0.92,-0.90]),
    (-3.82, [-0.90,-0.85,-0.84]),
]

# axis settings (limits / ticks) per panel
A_XLIM, A_YLIM = (-6.024, 0.88), (-7.26, 0.506)
B_XLIM, B_YLIM = (-2.478, 0.591), (-5.21, 0.29)
C_XLIM, C_YLIM = (-2.10, 0.549), (-4.70, -0.068)
A_XTICKS, A_YTICKS = [-6, -5, -4, -3, -2, -1, 0], [0, -2, -4, -6]
B_XTICKS, B_YTICKS = [-2.0, -1.5, -1.0, -0.5, 0.0, 0.5], [0, -1, -2, -3, -4, -5]
C_XTICKS, C_YTICKS = [-2.0, -1.5, -1.0, -0.5, 0.0, 0.5], [-1, -2, -3, -4]


def to_df(pairs, rows=()):
    xs = [p[0] for p in pairs]
    ys = [p[1] for p in pairs]
    for yv, xlist in rows:
        xs.extend(xlist)
        ys.extend([yv] * len(xlist))
    return pd.DataFrame({"x": xs, "y": ys})


# ---------------- style ----------------
sns.set_theme(style="whitegrid")
plt.rcParams["font.family"] = ["Liberation Sans", "DejaVu Sans"]
plt.rcParams["mathtext.fontset"] = "dejavusans"
plt.rcParams["grid.color"] = "#e8e8e8"
plt.rcParams["grid.linewidth"] = 0.9

fig = plt.figure(figsize=(9.69, 13.62), dpi=100)

panels = [
    ("a)", [0.098, 0.7093, 0.8989, 0.2482], A_TITLE, A_RAW, (), A_FILT, (), A_INTERCEPT, A_SLOPE, A_R2,
     A_XLIM, A_YLIM, A_XTICKS, A_YTICKS, "{:.0f}", 1 - 25 / 1362),
    ("b)", [0.096, 0.3759, 0.9010, 0.2496], B_TITLE, B_RAW, (), B_FILT, B_FILT_ROWS, B_INTERCEPT, B_SLOPE, B_R2,
     B_XLIM, B_YLIM, B_XTICKS, B_YTICKS, "{:.1f}", 1 - 463 / 1362),
    ("c)", [0.096, 0.0433, 0.9010, 0.2482], C_TITLE, C_RAW, C_RAW_ROWS, C_FILT, C_FILT_ROWS, C_INTERCEPT, C_SLOPE,
     C_R2, C_XLIM, C_YLIM, C_XTICKS, C_YTICKS, "{:.1f}", 1 - 931 / 1362),
]

for (lab, pos, title, raw, raw_rows, filt, filt_rows, b0, b1, r2,
     xlim, ylim, xticks, yticks, xfmt, laby) in panels:
    ax = fig.add_axes(pos)
    raw_df = to_df(raw, raw_rows)
    filt_df = to_df(filt, filt_rows)
    sns.scatterplot(data=raw_df, x="x", y="y", marker="+", color="#505050", s=16,
                    linewidth=0.8, alpha=0.75, label="Raw Data", ax=ax, zorder=2)
    sns.scatterplot(data=filt_df, x="x", y="y", marker="+", color="#6495ED", s=34,
                    linewidth=2.1, label="Filtered Data", ax=ax, zorder=3)
    x0, x1 = filt_df["x"].min(), filt_df["x"].max()
    fit_df = pd.DataFrame({"x": [x0, x1], "y": [b0 + b1 * x0, b0 + b1 * x1]})
    sns.lineplot(data=fit_df, x="x", y="y", color="#d62728", linestyle=":", linewidth=1.3,
                 label=f"y = {b0:.2f} + {b1:.2f}(Q)", ax=ax, zorder=4, sort=False, estimator=None)

    ax.set_xlim(*xlim)
    ax.set_ylim(*ylim)
    ax.set_xticks(xticks)
    ax.set_yticks(yticks)
    ax.set_xticklabels([xfmt.format(v).replace("-", "\u2212") for v in xticks])
    ax.set_yticklabels([f"{v:.0f}".replace("-", "\u2212") for v in yticks])
    ax.tick_params(axis="both", labelsize=16, length=0, pad=6, colors="#262626")
    for sp in ax.spines.values():
        sp.set_visible(True)
        sp.set_edgecolor("#404040")
        sp.set_linewidth(1.4)
    ax.set_xlabel(r"$log\,Discharge\ (mm/hr)$", fontsize=18, labelpad=1, color="#262626")
    ax.set_ylabel(r"$log\ \frac{dQ}{dt}\ (mm/hr^2)$", fontsize=18, labelpad=2, color="#262626")
    ax.set_title(title, fontsize=18, pad=4, color="#262626")
    ax.text(0.031, 0.935, rf"$R^2 = {r2:.2f}$", transform=ax.transAxes, fontsize=14.5,
            va="center", ha="left", color="#262626",
            bbox=dict(facecolor="white", edgecolor="none", pad=1.5))
    leg = ax.legend(loc="lower right", fontsize=16, frameon=True, handlelength=2.4,
                    handletextpad=0.9, labelspacing=0.3, borderpad=0.5, borderaxespad=0.5)
    leg.get_frame().set_edgecolor("#d0d0d0")
    for t in leg.get_texts():
        t.set_color("#262626")
    fig.text(10 / 969, laby, lab, fontsize=15, va="center", ha="left", color="#262626")

fig.savefig("out.png", dpi=100)
